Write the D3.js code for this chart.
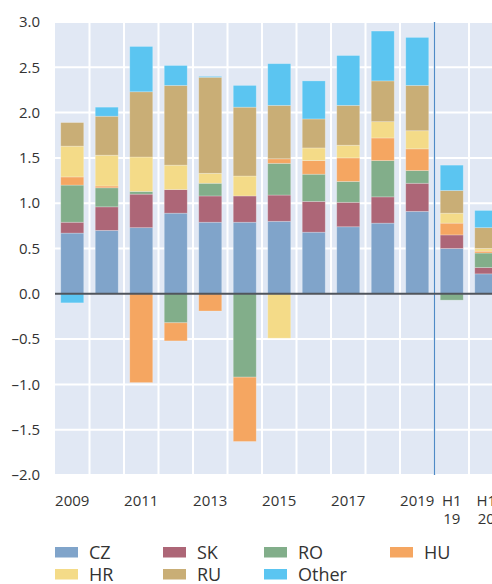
<!DOCTYPE html>
<html>
<head>
<meta charset="utf-8">
<script src="https://cdn.jsdelivr.net/npm/d3@7"></script>
<style>
  body { margin: 0; background: #fff; overflow: hidden; }
  text { font-family: "Open Sans", sans-serif; fill: #333; }
</style>
</head>
<body>
<svg id="chart" width="492" height="584"></svg>
<script>
const categories = ["2009", "2010", "2011", "2012", "2013", "2014", "2015", "2016", "2017", "2018", "2019", "H1 19", "H1 20"];
// tick labels, "" = no label; "|" splits into two lines
const tickLabels = ["2009", "", "2011", "", "2013", "", "2015", "", "2017", "", "2019", "H1|19", "H1|20"];
const seriesNames = ["CZ", "SK", "RO", "HU", "HR", "RU", "Other"];

const cz    = [0.67, 0.70, 0.73, 0.89, 0.79, 0.79, 0.80, 0.68, 0.74, 0.78, 0.91, 0.50, 0.22];
const sk    = [0.12, 0.26, 0.37, 0.26, 0.29, 0.29, 0.29, 0.34, 0.27, 0.29, 0.31, 0.15, 0.07];
const ro    = [0.41, 0.21, 0.03, -0.32, 0.14, -0.92, 0.35, 0.30, 0.23, 0.40, 0.14, -0.07, 0.16];
const hu    = [0.09, 0.02, -0.98, -0.20, -0.19, -0.71, 0.05, 0.15, 0.26, 0.25, 0.24, 0.13, 0.02];
const hr    = [0.34, 0.34, 0.38, 0.27, 0.11, 0.22, -0.49, 0.14, 0.14, 0.18, 0.20, 0.11, 0.03];
const ru    = [0.26, 0.43, 0.72, 0.88, 1.06, 0.76, 0.59, 0.32, 0.44, 0.45, 0.50, 0.25, 0.23];
const other = [-0.10, 0.10, 0.50, 0.22, 0.01, 0.24, 0.46, 0.42, 0.55, 0.55, 0.53, 0.28, 0.19];

const yTicks = [3.0, 2.5, 2.0, 1.5, 1.0, 0.5, 0.0, -0.5, -1.0, -1.5, -2.0];

const colors = ["#80a4ca", "#ad6677", "#82ae8a", "#f5a661", "#f4db88", "#c9ae76", "#5bc5f1"];

// build rows for d3.stack
const valuesBySeries = [cz, sk, ro, hu, hr, ru, other];
const rows = categories.map((c, i) => {
  const r = { cat: c };
  seriesNames.forEach((s, j) => r[s] = valuesBySeries[j][i]);
  return r;
});

const svg = d3.select("#chart");
const plotLeft = 55, plotTop = 22, plotBottom = 475;
const bandW = 34.5;
const plotRight = plotLeft + bandW * categories.length;

const x = d3.scaleBand().domain(categories).range([plotLeft, plotRight]).padding(0);
const y = d3.scaleLinear().domain([-2, 3]).range([plotBottom, plotTop]);
const color = d3.scaleOrdinal(seriesNames, colors);

// plot background
svg.append("rect")
  .attr("x", plotLeft).attr("y", plotTop)
  .attr("width", plotRight - plotLeft).attr("height", plotBottom - plotTop)
  .attr("fill", "#e1e8f4");

// horizontal gridlines
svg.append("g").selectAll("line")
  .data(yTicks.filter(t => t !== 0))
  .join("line")
  .attr("x1", plotLeft).attr("x2", plotRight)
  .attr("y1", d => y(d)).attr("y2", d => y(d))
  .attr("stroke", "#fff").attr("stroke-width", 2);

// vertical gridlines at band edges
svg.append("g").selectAll("line")
  .data(categories.slice(1))
  .join("line")
  .attr("x1", d => x(d)).attr("x2", d => x(d))
  .attr("y1", plotTop).attr("y2", plotBottom)
  .attr("stroke", "#fff").attr("stroke-width", 2);

// separator between annual and half-year data
svg.append("line")
  .attr("x1", x("H1 19")).attr("x2", x("H1 19"))
  .attr("y1", plotTop).attr("y2", plotBottom)
  .attr("stroke", "#4f8ac6").attr("stroke-width", 1.3);

// stacked bars
const stack = d3.stack().keys(seriesNames).offset(d3.stackOffsetDiverging);
const stacked = stack(rows);
const barW = x.bandwidth() * 0.667;
const barOff = (x.bandwidth() - barW) / 2;

svg.append("g").selectAll("g")
  .data(stacked)
  .join("g")
  .attr("fill", d => color(d.key))
  .selectAll("rect")
  .data(d => d)
  .join("rect")
  .attr("x", d => x(d.data.cat) + barOff)
  .attr("width", barW)
  .attr("y", d => y(Math.max(d[0], d[1])))
  .attr("height", d => Math.abs(y(d[0]) - y(d[1])))
  .attr("stroke", "rgba(255,255,255,0.3)")
  .attr("stroke-width", 0.8);

// zero line
svg.append("line")
  .attr("x1", plotLeft).attr("x2", plotRight)
  .attr("y1", y(0)).attr("y2", y(0))
  .attr("stroke", "#50555c").attr("stroke-width", 2);

// y axis labels
svg.append("g").selectAll("text")
  .data(yTicks)
  .join("text")
  .attr("x", 40)
  .attr("y", d => y(d))
  .attr("dy", "0.35em")
  .attr("text-anchor", "end")
  .attr("font-size", 15)
  .text(d => d3.format(".1f")(d).replace("-", "\u2013").replace("\u2212", "\u2013"));

// x axis labels, one text per line
const xLines = [];
categories.forEach((c, i) => {
  if (!tickLabels[i]) return;
  tickLabels[i].split("|").forEach((t, k) => xLines.push({ c, t, k }));
});
svg.append("g").selectAll("text")
  .data(xLines)
  .join("text")
  .attr("x", d => x(d.c) + x.bandwidth() / 2)
  .attr("y", d => 506 + d.k * 18)
  .attr("text-anchor", "middle")
  .attr("font-size", 15)
  .text(d => d.t);

// legend
const legendX = [55, 163, 264, 390];
const legend = svg.append("g").selectAll("g")
  .data(seriesNames)
  .join("g")
  .attr("transform", (d, i) => "translate(" + legendX[i % 4] + "," + (i < 4 ? 547 : 569) + ")");
legend.append("rect")
  .attr("width", 23).attr("height", 10.5)
  .attr("fill", d => color(d));
legend.append("text")
  .attr("x", 34).attr("y", 5.5)
  .attr("dy", "0.35em")
  .attr("font-size", 18)
  .text(d => d);
</script>
</body>
</html>
